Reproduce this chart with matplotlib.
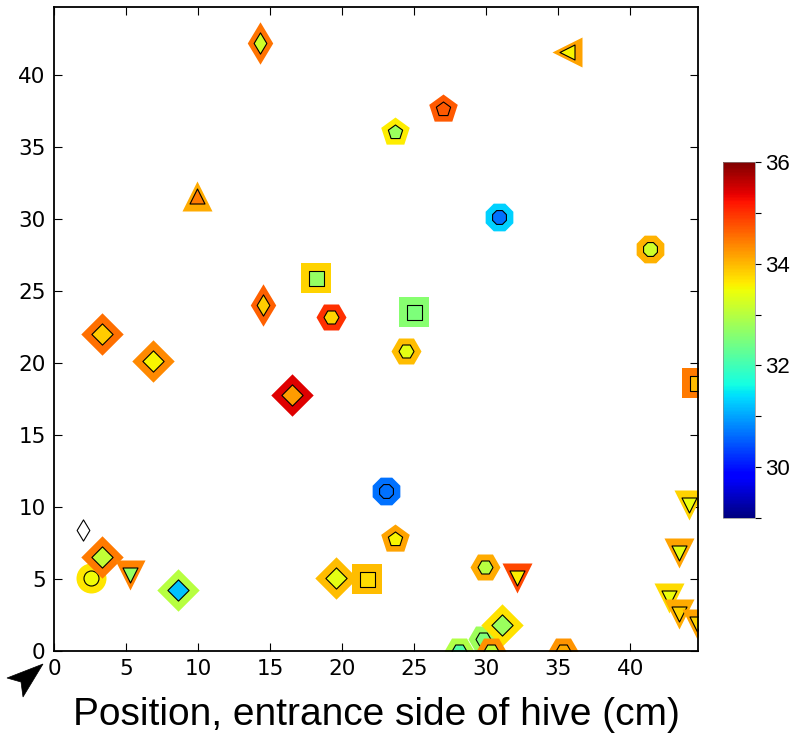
import numpy as np
import matplotlib
matplotlib.use("Agg")
import matplotlib.pyplot as plt
from matplotlib.patches import Polygon
from matplotlib.colors import Normalize
from matplotlib.cm import ScalarMappable

nan = np.nan
# position (cm) along entrance side, position (cm) along other axis
x_pos = [2.0, 2.6, 3.3, 5.3, 8.6, 14.3, 9.9, 23.7, 27.0, 35.6, 30.9, 41.4, 18.2, 25.0,
         14.5, 19.2, 3.3, 6.9, 24.4, 16.5, 44.6, 23.05, 23.7, 19.6, 21.7, 29.9, 32.15,
         28.1, 29.8, 31.1, 30.3, 35.3, 44.1, 43.4, 42.7, 43.4, 44.6]
y_pos = [8.4, 5.1, 6.5, 5.3, 4.2, 42.2, 31.6, 36.0, 37.6, 41.6, 30.1, 27.9, 25.9, 23.5,
         24.0, 23.2, 22.0, 20.1, 20.8, 17.8, 18.6, 11.1, 7.8, 5.1, 5.0, 5.8, 5.1,
         0.0, 0.8, 1.8, 0.0, 0.0, 10.1, 6.8, 3.7, 2.6, 1.9]
shapes = ['d', 'o', 'D', 'v', 'D', 'd', '^', 'p', 'p', '<', '8', '8', 's', 's',
          'd', 'H', 'D', 'D', 'H', 'D', 's', '8', 'p', 'D', 's', 'H', 'v',
          'H', 'H', 'D', 'H', 'H', 'v', 'v', 'v', 'v', 'v']
outer_temp = [nan, 33.65, 34.45, 34.4, 33.0, 34.5, 34.1, 33.6, 34.7, 34.15, 31.3, 34.05, 33.8, 32.6,
              34.65, 35.0, 34.55, 34.35, 33.95, 35.4, 34.45, 30.65, 34.15, 33.95, 33.95, 34.1, 34.85,
              32.95, 32.8, 33.7, 34.3, 34.25, 33.8, 34.15, 33.75, 34.1, 34.15]
inner_temp = [nan, 33.5, 33.1, 32.7, 31.2, 33.2, 34.45, 32.75, 34.7, 33.55, 30.65, 33.2, 32.7, 32.5,
              33.85, 33.8, 33.85, 33.55, 33.4, 34.2, 33.95, 30.65, 33.55, 33.4, 33.75, 33.0, 33.6,
              32.15, 32.55, 32.75, 33.1, 34.1, 33.45, 33.4, 33.45, 33.8, 33.8]

cbar_ticks = [29, 30, 31, 32, 33, 34, 35, 36]
cbar_labels = ['', '30', '', '32', '', '34', '', '36']
axis_ticks = [0, 5, 10, 15, 20, 25, 30, 35, 40]
xlabel = 'Position, entrance side of hive (cm)'

W, H = 797, 745
fig = plt.figure(figsize=(W / 100, H / 100), dpi=100)
ax = fig.add_axes([54 / W, (H - 651) / H, 644 / W, 644 / H])
cax = fig.add_axes([723 / W, (H - 518) / H, 32 / W, 356 / H])

cmap = plt.get_cmap('jet').with_extremes(bad='white')
norm = Normalize(vmin=29, vmax=36)

s_outer = 21.6 ** 2
s_inner = 10.8 ** 2
for xi, yi, m, vo, vi in zip(x_pos, y_pos, shapes, outer_temp, inner_temp):
    if not np.isnan(vo):
        ax.scatter([xi], [yi], s=s_outer, c=[vo], cmap=cmap, norm=norm, marker=m,
                   linewidths=0, zorder=2)
    ax.scatter([xi], [yi], s=s_inner, c=[vi], cmap=cmap, norm=norm, marker=m,
               edgecolors='black', linewidths=0.8, zorder=2, plotnonfinite=True)

ax.set_xlim(0, 44.7)
ax.set_ylim(0, 44.7)
ax.set_xticks(axis_ticks)
ax.set_yticks(axis_ticks)
ax.tick_params(direction='in', top=True, right=True, length=5.5, width=0.8,
               labelsize=15.5, pad=6)
for sp in ax.spines.values():
    sp.set_linewidth(1.3)
for lab in ax.get_xticklabels() + ax.get_yticklabels():
    lab.set_fontfamily('DejaVu Sans')
ax.set_xlabel(xlabel, fontsize=28, family='Liberation Sans', labelpad=13)

cb = fig.colorbar(ScalarMappable(norm=norm, cmap=cmap), cax=cax)
cb.set_ticks(cbar_ticks)
cb.set_ticklabels(cbar_labels)
cb.ax.tick_params(direction='out', length=4, width=0.8, labelsize=16, pad=3)
for lab in cb.ax.get_yticklabels():
    lab.set_fontfamily('Liberation Sans')
cb.outline.set_linewidth(0.5)
cb.outline.set_edgecolor('#888888')

# entrance arrow head (decoration)
arrow_px = [(43, 664), (7, 678), (21, 682), (23, 697)]
arrow = Polygon([(px / W, 1 - py / H) for px, py in arrow_px], closed=True,
                transform=fig.transFigure, facecolor='black', edgecolor='black',
                linewidth=0.5, clip_on=False)
fig.patches.append(arrow)

fig.savefig('out.png', dpi=100)
